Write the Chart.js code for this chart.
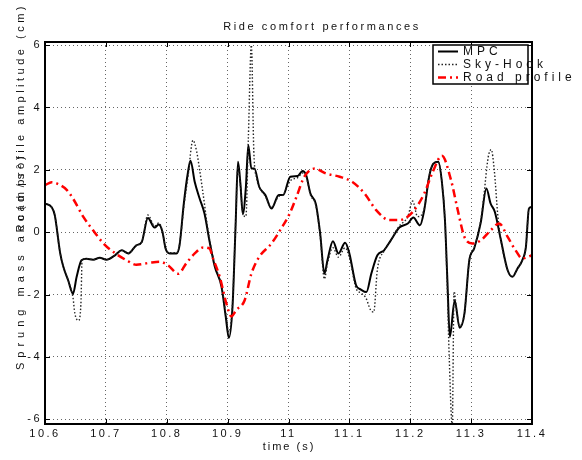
<!DOCTYPE html>
<html>
<head>
<meta charset="utf-8">
<script src="https://cdn.jsdelivr.net/npm/chart.js@4.4.0/dist/chart.umd.min.js"></script>
<style>
  html, body { margin: 0; padding: 0; background: #fff; }
</style>
</head>
<body>
<canvas id="myCanvas" width="582" height="460"></canvas>
<script>
const xTicks = [10.6, 10.7, 10.8, 10.9, 11.0, 11.1, 11.2, 11.3, 11.4];
const yTicks = [-6, -4, -2, 0, 2, 4, 6];

const mpcTime = [10.600, 10.611, 10.616, 10.625, 10.630, 10.638, 10.646, 10.652, 10.660, 10.668,
  10.679, 10.690, 10.701, 10.715, 10.726, 10.737, 10.750, 10.759, 10.769, 10.780,
  10.787, 10.793, 10.798, 10.805, 10.816, 10.821, 10.828, 10.835, 10.839, 10.846,
  10.854, 10.862, 10.870, 10.879, 10.890, 10.897, 10.902, 10.908, 10.913, 10.917,
  10.921, 10.925, 10.930, 10.934, 10.939, 10.944, 10.952, 10.962, 10.972, 10.984,
  10.991, 11.003, 11.015, 11.023, 11.029, 11.036, 11.045, 11.052, 11.059, 11.064,
  11.073, 11.082, 11.093, 11.100, 11.111, 11.119, 11.128, 11.136, 11.146, 11.157,
  11.168, 11.182, 11.196, 11.205, 11.216, 11.223, 11.231, 11.238, 11.246, 11.252,
  11.257, 11.261, 11.265, 11.273, 11.281, 11.289, 11.297, 11.305, 11.316, 11.325,
  11.332, 11.339, 11.349, 11.360, 11.368, 11.376, 11.384, 11.390, 11.395, 11.400];
const mpcAcc = [0.92, 0.80, 0.55, -0.68, -1.10, -1.54, -1.97, -1.43, -0.90, -0.85,
  -0.88, -0.82, -0.88, -0.74, -0.58, -0.68, -0.42, -0.31, 0.46, 0.15,
  0.25, 0.01, -0.52, -0.68, -0.68, -0.42, 0.92, 1.94, 2.29, 1.61,
  1.08, 0.60, -0.26, -1.11, -1.75, -2.72, -3.39, -2.40, 0.17, 2.26,
  1.56, 0.58, 1.45, 2.79, 2.04, 2.04, 1.45, 1.19, 0.76, 1.19,
  1.19, 1.78, 1.80, 1.96, 1.83, 1.24, 0.90, -0.04, -1.33, -0.90,
  -0.29, -0.68, -0.34, -0.68, -1.70, -1.84, -1.92, -1.33, -0.74, -0.58,
  -0.26, 0.15, 0.28, 0.47, 0.22, 0.71, 1.78, 2.20, 2.26, 1.61,
  0.39, -1.54, -3.36, -2.18, -3.06, -2.61, -0.90, -0.52, 0.33, 1.40,
  0.92, 0.65, -0.26, -1.22, -1.43, -1.17, -0.90, -0.47, 0.76, 0.81];

const skyTime = [10.600, 10.611, 10.616, 10.625, 10.630, 10.638, 10.646, 10.649, 10.655, 10.659,
  10.661, 10.668, 10.679, 10.690, 10.701, 10.715, 10.726, 10.737, 10.750, 10.759,
  10.769, 10.780, 10.787, 10.793, 10.798, 10.805, 10.816, 10.821, 10.828, 10.835,
  10.843, 10.849, 10.854, 10.862, 10.866, 10.870, 10.879, 10.890, 10.897, 10.902,
  10.908, 10.913, 10.917, 10.921, 10.925, 10.930, 10.934, 10.939, 10.943, 10.948,
  10.952, 10.962, 10.972, 10.984, 10.991, 11.003, 11.015, 11.023, 11.029, 11.036,
  11.045, 11.052, 11.059, 11.064, 11.073, 11.082, 11.093, 11.100, 11.111, 11.119,
  11.127, 11.135, 11.140, 11.146, 11.157, 11.168, 11.182, 11.196, 11.204, 11.212,
  11.223, 11.231, 11.238, 11.246, 11.252, 11.257, 11.261, 11.264, 11.269, 11.272,
  11.276, 11.281, 11.289, 11.297, 11.305, 11.316, 11.320, 11.328, 11.333, 11.338,
  11.344, 11.349, 11.360, 11.368, 11.376, 11.384, 11.390, 11.395, 11.400];
const skyAcc = [0.92, 0.80, 0.55, -0.68, -1.10, -1.54, -2.10, -2.60, -2.83, -2.30,
  -0.85, -0.85, -0.88, -0.82, -0.88, -0.74, -0.58, -0.68, -0.42, -0.31,
  0.55, 0.20, 0.30, 0.02, -0.50, -0.66, -0.66, -0.40, 0.80, 1.80,
  2.95, 2.60, 2.00, 0.90, 0.30, -0.20, -1.05, -1.70, -2.60, -3.20,
  -2.30, 0.20, 2.10, 1.50, 0.60, 0.50, 3.00, 6.00, 2.60, 1.70,
  1.45, 1.15, 0.80, 1.15, 1.20, 1.65, 1.75, 1.90, 1.80, 1.20,
  0.85, -0.10, -1.50, -1.00, -0.50, -0.80, -0.50, -0.80, -1.80, -1.95,
  -2.10, -2.50, -2.56, -1.20, -0.60, -0.26, 0.20, 0.50, 1.00, 0.50,
  0.75, 1.80, 2.20, 2.25, 1.60, 0.40, -1.90, -4.00, -6.20, -1.90,
  -2.50, -3.00, -2.60, -0.90, -0.50, 0.40, 1.00, 2.40, 2.65, 2.00,
  0.50, -0.26, -1.22, -1.43, -1.17, -0.90, -0.47, 0.76, 0.81];

const roadTime = [10.600, 10.611, 10.625, 10.636, 10.646, 10.663, 10.679, 10.696, 10.712, 10.734,
  10.750, 10.772, 10.789, 10.802, 10.819, 10.832, 10.846, 10.860, 10.870, 10.876,
  10.887, 10.898, 10.906, 10.914, 10.928, 10.939, 10.952, 10.972, 10.988, 11.002,
  11.013, 11.026, 11.043, 11.062, 11.084, 11.105, 11.125, 11.144, 11.166, 11.182,
  11.204, 11.223, 11.237, 11.252, 11.267, 11.278, 11.289, 11.302, 11.316, 11.332,
  11.346, 11.360, 11.373, 11.384, 11.400];
const roadAmp = [1.51, 1.60, 1.51, 1.35, 1.08, 0.49, 0.06, -0.36, -0.63, -0.90,
  -1.04, -0.98, -0.95, -1.06, -1.33, -1.00, -0.68, -0.49, -0.52, -0.84,
  -1.43, -2.29, -2.70, -2.50, -2.18, -1.33, -0.79, -0.36, 0.12, 0.60,
  1.13, 1.78, 2.04, 1.88, 1.78, 1.61, 1.24, 0.71, 0.39, 0.39,
  0.65, 1.24, 1.94, 2.45, 1.67, 0.71, -0.15, -0.36, -0.26, 0.06,
  0.28, -0.15, -0.58, -0.84, -0.74];

const seriesNames = ['MPC', 'Sky-Hook', 'Road profile'];

const toPoints = (xs, ys) => xs.map((x, i) => ({ x: x, y: ys[i] }));

const styles = [
  { color: '#000', width: 2, dash: [] },
  { color: '#222', width: 1.4, dash: [1.5, 2] },
  { color: '#ff0000', width: 2.5, dash: [8, 4, 2, 4] }
];

// matlab-ish frame, ticks, legend and labels
const frame = {
  id: 'frame',
  beforeUpdate(chart) { chart.ctx.letterSpacing = '2.5px'; },
  beforeDraw(chart) { chart.ctx.letterSpacing = '2.5px'; },
  afterDatasetsDraw(chart) {
    const { ctx, chartArea: a, scales } = chart;
    ctx.save();
    ctx.strokeStyle = '#000';
    ctx.lineWidth = 1;
    ctx.setLineDash([]);
    ctx.beginPath();
    xTicks.forEach(t => {
      const px = Math.round(scales.x.getPixelForValue(t)) + 0.5;
      ctx.moveTo(px, a.bottom); ctx.lineTo(px, a.bottom - 5);
      ctx.moveTo(px, a.top); ctx.lineTo(px, a.top + 5);
    });
    yTicks.forEach(t => {
      const py = Math.round(scales.y.getPixelForValue(t)) + 0.5;
      ctx.moveTo(a.left, py); ctx.lineTo(a.left + 5, py);
      ctx.moveTo(a.right, py); ctx.lineTo(a.right - 5, py);
    });
    ctx.stroke();
    ctx.lineWidth = 2;
    ctx.strokeRect(a.left, a.top, a.right - a.left, a.bottom - a.top);

    // legend
    const lx = 433, ly = 45, lw = 95, lh = 39;
    ctx.fillStyle = '#fff';
    ctx.fillRect(lx, ly, lw, lh);
    ctx.font = '12px "Liberation Sans", Arial, sans-serif';
    ctx.letterSpacing = '4px';
    ctx.textBaseline = 'middle';
    ctx.textAlign = 'left';
    seriesNames.forEach((name, i) => {
      const y = ly + 6.5 + i * 13;
      ctx.strokeStyle = styles[i].color;
      ctx.lineWidth = styles[i].width;
      ctx.setLineDash(styles[i].dash);
      ctx.beginPath();
      ctx.moveTo(438, y); ctx.lineTo(458, y);
      ctx.stroke();
      ctx.fillStyle = '#111';
      ctx.fillText(name, 463, y);
    });
    ctx.setLineDash([]);
    ctx.strokeStyle = '#000';
    ctx.lineWidth = 1.5;
    ctx.strokeRect(lx, ly, lw, lh);
    ctx.restore();
  },
  afterDraw(chart) {
    const { ctx } = chart;
    ctx.save();
    ctx.fillStyle = '#111';
    ctx.font = '11px "Liberation Sans", Arial, sans-serif';
    ctx.textBaseline = 'middle';
    ctx.letterSpacing = '2.6px';
    ctx.textAlign = 'center';
    ctx.fillText('Ride comfort performances', 322, 27);
    ctx.letterSpacing = '2px';
    ctx.fillText('time (s)', 289, 447);

    ctx.translate(21, 0);
    ctx.rotate(-Math.PI / 2);
    ctx.letterSpacing = '5px';
    ctx.textAlign = 'left';
    ctx.fillText('Sprung mass acc(m/s²)', -370, 0);
    ctx.letterSpacing = '3.5px';
    ctx.textAlign = 'right';
    ctx.fillText('Road profile amplitude (cm)', -3, 0);
    ctx.restore();
  }
};

const ctx = document.getElementById('myCanvas').getContext('2d');

const chart = new Chart(ctx, {
  type: 'line',
  data: {
    datasets: [
      toPoints(mpcTime, mpcAcc),
      toPoints(skyTime, skyAcc),
      toPoints(roadTime, roadAmp)
    ].map((points, i) => ({
      label: seriesNames[i],
      data: points,
      borderColor: styles[i].color,
      borderWidth: styles[i].width,
      borderDash: styles[i].dash,
      pointRadius: 0,
      fill: false,
      cubicInterpolationMode: 'monotone'
    })).reverse()
  },
  options: {
    responsive: false,
    animation: false,
    layout: { padding: { left: 0, right: 50, top: 42, bottom: 0 } },
    scales: {
      x: {
        type: 'linear',
        min: 10.6,
        max: 11.4,
        afterBuildTicks: scale => { scale.ticks = xTicks.map(v => ({ value: v })); },
        afterFit: scale => { scale.height = 36; },
        grid: { color: '#666', lineWidth: 1, drawTicks: false },
        border: { display: false, dash: [1, 3] },
        ticks: {
          padding: 3,
          color: '#111',
          font: { family: '"Liberation Sans", Arial, sans-serif', size: 11 },
          maxRotation: 0,
          callback: v => String(+v.toFixed(1))
        }
      },
      y: {
        min: -6.15,
        max: 6.1,
        afterBuildTicks: scale => { scale.ticks = yTicks.map(v => ({ value: v })); },
        afterFit: scale => { scale.width = 45; },
        grid: { color: '#666', lineWidth: 1, drawTicks: false },
        border: { display: false, dash: [1, 3] },
        ticks: {
          padding: 3,
          color: '#111',
          font: { family: '"Liberation Sans", Arial, sans-serif', size: 11 },
          callback: v => String(v)
        }
      }
    },
    plugins: {
      legend: { display: false },
      tooltip: { enabled: false }
    }
  },
  plugins: [frame]
});
</script>
</body>
</html>
